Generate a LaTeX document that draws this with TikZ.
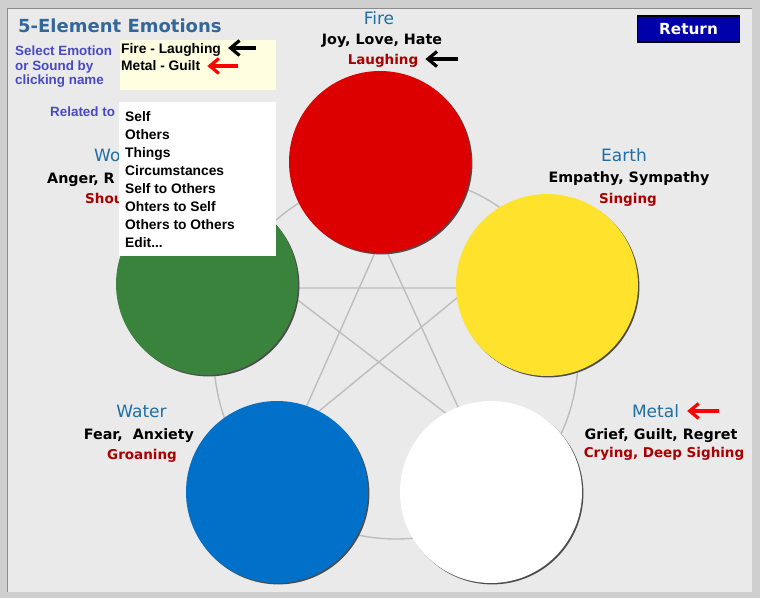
\documentclass[tikz,border=0pt]{standalone}
\usepackage{fontspec}
\setmainfont{DejaVu Sans}
\newfontfamily\menufont{Liberation Sans}
\usetikzlibrary{positioning,arrows.meta,shadows}

\definecolor{panelgray}{HTML}{EAEAEA}
\definecolor{framegray}{HTML}{CFCFCF}
\definecolor{titleblue}{HTML}{336699}
\definecolor{elemblue}{HTML}{1F6FA6}
\definecolor{soundred}{HTML}{AA0000}
\definecolor{promptblue}{HTML}{4848C8}
\definecolor{notefill}{HTML}{FFFEE0}
\definecolor{firered}{HTML}{DD0000}
\definecolor{earthyellow}{HTML}{FFE22B}
\definecolor{woodgreen}{HTML}{3A833C}
\definecolor{waterblue}{HTML}{0070C8}
\definecolor{returnblue}{HTML}{0000AA}
\newcommand{\menudots}{...}

\begin{document}
\begin{tikzpicture}[
    x=1pt, y=-1pt,
    every node/.style={inner sep=0pt},
    elemname/.style={anchor=base, text=elemblue, font=\fontsize{17}{20}\selectfont},
    feeling/.style={anchor=base, font=\bfseries\fontsize{14.3}{17}\selectfont},
    sound/.style={anchor=base, text=soundred, font=\bfseries\fontsize{13.5}{16}\selectfont},
    prompt/.style={anchor=base west, align=left, text=promptblue, font=\menufont\bfseries\fontsize{13.4}{14.3}\selectfont},
    menuitem/.style={anchor=base west, font=\menufont\bfseries\fontsize{13.8}{16}\selectfont},
    disc/.style={circle, minimum size=182pt, general shadow={fill=black!70, shadow xshift=1.4pt, shadow yshift=-1.4pt}},
    ring/.style={draw=black!26, line width=1.4pt},
    pointer/.style={-{Straight Barb[length=9pt,width=15pt]}, line width=3.2pt}
]
\useasboundingbox (0,0) rectangle (760,598);

% window frame
\fill[framegray] (0,0) rectangle (760,598);
\fill[panelgray] (7,8) rectangle (752,592);
\draw[black!45] (7,592) -- (7,8) -- (752,8);

% ring and star behind the discs
\coordinate (ctr) at (396,357);
\coordinate (vfire) at (381,239);
\coordinate (vearth) at (469,288);
\coordinate (vmetal) at (469,431);
\coordinate (vwater) at (296,430);
\coordinate (vwood) at (282,288);
\draw[ring] (ctr) circle[radius=182pt];
\draw[ring] (vfire) -- (vmetal) -- (vwood) -- (vearth) -- (vwater) -- cycle;

% element discs
\node[disc, fill=firered] (fire) at (380,162) {};
\node[disc, fill=earthyellow] (earth) at (547,285) {};
\node[disc, fill=woodgreen] (wood) at (207,284) {};
\node[disc, fill=waterblue] (water) at (277,492) {};
\node[disc, fill=white] (metal) at (491,492) {};

% heading
\node[anchor=base west, text=titleblue, font=\bfseries\fontsize{18}{21}\selectfont] (title) at (18,32) {5-Element Emotions};
\node[prompt] (prompt) at (15,84.5) {Select Emotion\\or Sound by\\clicking name};
\node[prompt] (related) at (50,116) {Related to};

% return button
\node[draw=black, line width=1.2pt, fill=returnblue, minimum width=102pt, minimum height=26pt,
      text=white, font=\bfseries\fontsize{15.3}{18}\selectfont] (ret) at (688.5,29) {Return};

% fire
\node[elemname] (firename) at (379,24) {Fire};
\node[feeling] (firefeel) at (382,44) {Joy, Love, Hate};
\node[sound] (firesound) at (383,64) {Laughing};
\coordinate (firetip) at (458,59);
\draw[pointer] (firetip) -- ([xshift=7pt]firesound.east |- firetip);

% earth
\node[elemname] (earthname) at (624,161) {Earth};
\node[feeling] (earthfeel) at (629,182) {Empathy, Sympathy};
\node[sound] (earthsound) at (628,203) {Singing};

% wood (partly under the menu)
\node[elemname, anchor=base west] (woodname) at (94,161) {Wo};
\node[feeling, anchor=base west] (woodfeel) at (47,183) {Anger, R};
\node[sound, anchor=base west] (woodsound) at (85,203) {Shou};

% water
\node[elemname] (watername) at (141.5,417) {Water};
\node[feeling] (waterfeel) at (139,439) {Fear, \ Anxiety};
\node[sound] (watersound) at (142,459) {Groaning};

% metal
\node[elemname] (metalname) at (655.5,417) {Metal};
\node[feeling] (metalfeel) at (661,439) {Grief, Guilt, Regret};
\node[sound] (metalsound) at (664,457) {Crying, Deep Sighing};
\coordinate (metaltip) at (719,411);
\draw[pointer, red] (metaltip) -- ([xshift=8pt]metalname.east |- metaltip);

% picked items
\fill[notefill] (120,40) rectangle (276,90);
\node[menuitem] (firepick) at (121,53) {Fire - Laughing};
\node[menuitem] (metalpick) at (121,70) {Metal - Guilt};
\coordinate (picktip) at (256,48);
\coordinate (picktip2) at (238,66);
\draw[pointer] (picktip) -- ([xshift=7pt]firepick.east |- picktip);
\draw[pointer, red] (picktip2) -- ([xshift=7pt]metalpick.east |- picktip2);

% relation menu
\fill[white] (119,102) rectangle (276,256);
\foreach \item [count=\i from 0] in {Self, Others, Things, Circumstances, Self to Others, Ohters to Self, Others to Others, Edit\menudots}
  \node[menuitem] (item\i) at (125,121+18*\i) {\item};
\end{tikzpicture}
\end{document}
